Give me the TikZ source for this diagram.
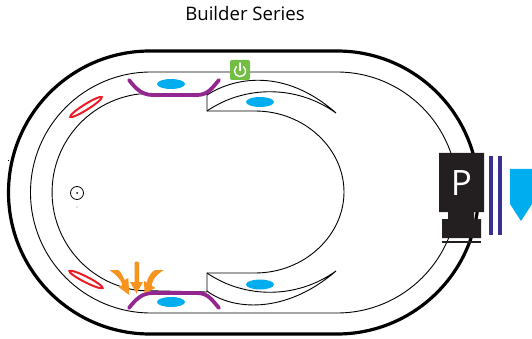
\documentclass[tikz,border=0pt]{standalone}
\usepackage{fontspec}
\setmainfont{Open Sans}
\definecolor{pblue}{HTML}{00AEEF}
\definecolor{ppurple}{HTML}{92278F}
\definecolor{pred}{HTML}{ED1C24}
\definecolor{porange}{HTML}{F7941D}
\definecolor{pgreen}{HTML}{72BF44}
\definecolor{pdark}{HTML}{231F20}
\definecolor{pnavy}{HTML}{383091}
\tikzset{
  thinline/.style={draw=black,line width=0.9pt},
  jet/.style={fill=pblue,draw=none},
  seat/.style={draw=ppurple,line width=3.8pt,line cap=round,line join=round},
  light/.style={draw=pred,line width=2pt,fill=white},
  flow/.style={fill=porange,draw=none}
}
\begin{document}
\begin{tikzpicture}[x=1pt,y=-1pt]
\useasboundingbox (0,0) rectangle (532,339);
\node[font=\fontsize{18.6}{22}\selectfont] (title) at (245,14) {Builder Series};
% outer rim
\draw[line width=3.2pt] (150,51) -- (337,51) arc[start angle=-90,end angle=90,radius=141.5] -- (150,334) arc[start angle=90,end angle=270,radius=141.5] -- cycle;
\draw[line width=0.6pt] (8,160) -- (9,160);
% tub wall
\draw[thinline] (151,72) -- (337,72) arc[start angle=-90,end angle=90,radius=120.5] -- (151,313) arc[start angle=90,end angle=270,radius=120.5] -- cycle;
% inner well
\draw[thinline] (139,94) arc[start angle=263,end angle=97,radius=99] -- (207,292) -- (207,273) -- (255,273)
  .. controls (305,273) and (344,235) .. (344,192) .. controls (344,149) and (305,111) .. (255,111) -- (207,111) -- (207,94) -- (139,94);
% crescents
\draw[thinline] (207,95) .. controls (235,77) and (285,68) .. (336,113) .. controls (297,85) and (245,85) .. (207,111);
\draw[thinline] (207,291) .. controls (232,310) and (285,315) .. (336,271) .. controls (297,299) and (245,299) .. (207,273);
% jets
\fill[jet] (171,84) ellipse[x radius=14,y radius=5];
\fill[jet] (260,102) ellipse[x radius=14,y radius=5];
\fill[jet] (260,284.5) ellipse[x radius=14,y radius=5];
\fill[jet] (171,302) ellipse[x radius=14,y radius=5];
% seats
\draw[seat] (129,80) .. controls (136,89) and (142,95) .. (153,95) -- (197,95) .. controls (208,95) and (212,88) .. (219,80);
\draw[seat] (129,308) .. controls (136,299) and (142,293) .. (153,293) -- (197,293) .. controls (208,293) and (212,300) .. (219,308);
% lights
\draw[light] (86,107) ellipse[x radius=18.5,y radius=2.8,rotate=32];
\draw[light] (86,279.5) ellipse[x radius=18.5,y radius=2.8,rotate=-27];
% drain
\draw[line width=0.8pt] (77,193) circle (6.5);
\fill (77,193) circle (1);
\fill[gray] (77,207) circle (0.6);
% button
\node[fill=pgreen,rounded corners=2pt,minimum size=20pt,inner sep=0pt] (btn) at (240,70) {};
\draw[white,line width=1.4pt,line cap=round] (236.4,66.7) arc[start angle=230,end angle=-50,radius=5.6];
\draw[white,line width=1.4pt,line cap=round] (240,63) -- (240,70.5);
% orange arrows
\fill[flow] (134.5,263) .. controls (134.5,261) and (139,261) .. (139,263) -- (139,282) -- (143,282) -- (136.5,293.5) -- (130,282) -- (134.5,282) -- cycle;
\fill[flow] (109.3,270) -- (118.3,270) .. controls (121,272) and (123,276) .. (124.5,280) -- (128.3,278) -- (129.3,295) -- (118.5,287) -- (122.3,285) .. controls (121,280) and (118,276) .. (109.3,270) -- cycle;
\fill[flow] (163.8,270) -- (155,270) .. controls (151,272) and (148,277) .. (146.7,282.5) -- (144,281) -- (144.5,293) -- (155.5,288) -- (151.7,285.7) .. controls (152,280) and (156,275) .. (163.8,270) -- cycle;
% pump
\fill[pdark] (439,153) -- (484,153) -- (484,212) -- (474,212) -- (474,219) -- (481,219) -- (481,238) -- (442,238) -- (442,219) -- (448,219) -- (448,212) -- (439,212) -- cycle;
\fill[pdark] (442,241) rectangle (481,243);
\node[white,font=\fontsize{35}{38}\selectfont,inner sep=0pt] (pump) at (461.5,183) {P};
% lines
\fill[pnavy] (489,156) rectangle (493,235);
\fill[pnavy] (498,156) rectangle (502,235);
% blue arrow
\fill[pblue] (510,169) -- (532,169) -- (532,204) -- (521,221) -- (510,204) -- cycle;
\end{tikzpicture}
\end{document}
